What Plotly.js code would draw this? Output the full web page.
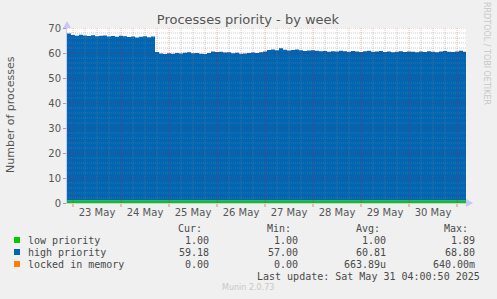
<!DOCTYPE html>
<html>
<head>
<meta charset="utf-8">
<script src="https://cdn.plot.ly/plotly-3.0.1.min.js"></script>
<style>
  html, body { margin: 0; padding: 0; background: #F0F0F0; }
  #chart { width: 497px; height: 299px; }
</style>
</head>
<body>
<div id="chart"></div>
<script>
// ---- data ----
const startTime = "2025-05-22T21:00:00Z";   // first sample
const stepHours = 2;                         // sampling step
const seriesNames = ["low priority", "high priority", "locked in memory"];
const seriesColors = ["#00CC00", "#0066B3", "#FF8000"];

const lowPriority = [
  1.00, 1.00, 1.00, 1.00, 1.00, 1.00, 1.00, 1.00, 1.00, 1.00,
  1.00, 1.00, 1.00, 1.00, 1.00, 1.00, 1.00, 1.00, 1.00, 1.00,
  1.00, 1.00, 1.00, 1.00, 1.00, 1.00, 1.00, 1.00, 1.00, 1.00,
  1.00, 1.00, 1.00, 1.00, 1.00, 1.00, 1.00, 1.00, 1.00, 1.00,
  1.00, 1.00, 1.00, 1.00, 1.00, 1.00, 1.00, 1.00, 1.00, 1.00,
  1.00, 1.00, 1.00, 1.00, 1.00, 1.00, 1.00, 1.00, 1.00, 1.00,
  1.00, 1.00, 1.00, 1.00, 1.00, 1.00, 1.00, 1.00, 1.00, 1.00,
  1.00, 1.00, 1.00, 1.00, 1.00, 1.00, 1.00, 1.00, 1.00, 1.00,
  1.00, 1.00, 1.00, 1.00, 1.00, 1.00, 1.00, 1.00, 1.00, 1.00,
  1.00, 1.00, 1.00, 1.00, 1.00, 1.00, 1.00, 1.00, 1.00, 1.00,
  1.00
];
const highPriority = [
  66.8, 66.2, 65.9, 66.3, 66.0, 65.8, 66.1, 65.7, 65.9, 66.0,
  65.6, 65.8, 65.5, 65.9, 65.7, 65.4, 65.6, 65.2, 65.5, 65.7,
  65.3, 65.6, 59.4, 58.8, 58.6, 58.9, 58.7, 59.0, 58.8, 59.1,
  59.3, 58.9, 59.0, 58.7, 58.6, 59.0, 59.6, 59.4, 59.5, 59.2,
  59.3, 58.9, 59.1, 58.7, 58.8, 59.0, 59.2, 59.0, 59.3, 59.6,
  60.2, 60.4, 60.1, 60.9, 60.3, 60.0, 60.2, 60.4, 60.1, 59.8,
  60.0, 60.1, 59.9, 59.7, 59.8, 59.5, 59.7, 59.6, 59.9, 59.7,
  59.5, 59.8, 59.6, 59.4, 59.7, 59.9, 59.5, 59.6, 59.8, 59.4,
  59.6, 59.3, 59.5, 59.7, 59.4, 59.6, 59.5, 59.3, 59.6, 59.4,
  59.7, 59.5, 59.3, 59.6, 59.8, 59.5, 59.4, 59.6, 59.9, 59.5,
  59.2
];
const lockedInMemory = [
  0, 0, 0, 0, 0, 0, 0, 0, 0, 0,
  0, 0, 0, 0, 0, 0, 0, 0, 0, 0,
  0, 0, 0, 0, 0, 0, 0, 0, 0, 0,
  0, 0, 0, 0, 0, 0, 0, 0, 0, 0,
  0, 0, 0, 0, 0, 0, 0, 0, 0, 0,
  0, 0, 0, 0, 0, 0, 0, 0, 0, 0,
  0, 0, 0, 0, 0, 0, 0, 0, 0, 0,
  0, 0, 0, 0, 0, 0, 0, 0, 0, 0,
  0, 0, 0, 0, 0, 0, 0, 0, 0, 0,
  0, 0, 0, 0, 0, 0, 0, 0, 0, 0,
  0
];

const tickDays = ["2025-05-23 12:00", "2025-05-24 12:00", "2025-05-25 12:00", "2025-05-26 12:00",
                  "2025-05-27 12:00", "2025-05-28 12:00", "2025-05-29 12:00", "2025-05-30 12:00"];
const tickLabels = ["23 May", "24 May", "25 May", "26 May", "27 May", "28 May", "29 May", "30 May"];
const yTicks = [0, 10, 20, 30, 40, 50, 60, 70];

const statHeaders = ["Cur:", "Min:", "Avg:", "Max:"];
const statCur = ["1.00", "59.18", "0.00"];
const statMin = ["1.00", "57.00", "0.00"];
const statAvg = ["1.00", "60.81", "663.89u"];
const statMax = ["1.89", "68.80", "640.00m"];
const lastUpdate = "Last update: Sat May 31 04:00:50 2025";

const xRange = ["2025-05-22 21:00", "2025-05-31 04:30"];
const yRange = [0, 70];

// ---- build ----
const t0 = new Date(startTime).getTime();
const times = lowPriority.map((_, i) =>
  new Date(t0 + i * stepHours * 3600000).toISOString().slice(0, 16).replace("T", " "));

const seriesData = [lowPriority, highPriority, lockedInMemory];
const traces = seriesData.map((vals, k) => ({
  type: "scatter",
  mode: "lines",
  x: times,
  y: vals,
  name: seriesNames[k],
  stackgroup: "one",
  line: { width: 0, shape: "hv", color: seriesColors[k] },
  fillcolor: seriesColors[k],
  hoverinfo: "skip"
}));

// plot geometry in pixels
const W = 497, H = 299;
const L = 67, R = 466, T = 28, B = 203;
const px = x => (x - L) / (R - L);
const py = y => (B - y) / (B - T);

const shapes = [];
// horizontal grid
for (let v = 2; v <= 70; v += 2) {
  const major = v % 10 === 0;
  shapes.push({
    type: "line", xref: "paper", yref: "y", x0: 0, x1: 1, y0: v, y1: v, layer: "above",
    line: { color: major ? "rgba(255,0,0,0.32)" : "rgba(128,128,128,0.42)", width: 1, dash: "1px,1px" }
  });
}
// vertical grid every 6 hours
const gStart = new Date("2025-05-23T00:00:00Z").getTime();
for (let h = -18; h <= 8 * 24 + 4; h += 6) {
  const tt = gStart + h * 3600000;
  const s = new Date(tt).toISOString().slice(0, 16).replace("T", " ");
  if (s < xRange[0] || s > xRange[1]) continue;
  const major = h % 24 === 0;
  shapes.push({
    type: "line", xref: "x", yref: "paper", x0: s, x1: s, y0: 0, y1: 1, layer: "above",
    line: { color: major ? "rgba(255,0,0,0.32)" : "rgba(128,128,128,0.42)", width: 1, dash: "1px,1px" }
  });
  if (major) {
    shapes.push({
      type: "line", xref: "x", yref: "paper", x0: s, x1: s, y0: py(B + 1), y1: py(B + 4), layer: "above",
      line: { color: "rgba(230,120,120,0.9)", width: 1 }
    });
  }
}
// arrows
shapes.push({ type: "path", xref: "paper", yref: "paper", layer: "above",
  path: `M ${px(63)} ${py(28)} L ${px(71)} ${py(28)} L ${px(67)} ${py(21)} Z`,
  fillcolor: "#c8c8f4", line: { width: 0 } });
shapes.push({ type: "path", xref: "paper", yref: "paper", layer: "above",
  path: `M ${px(466)} ${py(199)} L ${px(466)} ${py(207)} L ${px(473)} ${py(203)} Z`,
  fillcolor: "#c8c8f4", line: { width: 0 } });
// legend squares
const rowY = [240, 252, 264];
rowY.forEach((y, k) => {
  shapes.push({ type: "rect", xref: "paper", yref: "paper",
    x0: px(14), x1: px(20), y0: py(y + 3), y1: py(y - 3),
    fillcolor: seriesColors[k], line: { width: 0 } });
});

const mono = { family: "DejaVu Sans Mono", size: 10, color: "#4a4a4a" };
const ann = [];
const txt = (text, x, y, anchor, font, extra) => ann.push(Object.assign({
  text, xref: "paper", yref: "paper", x: px(x), y: py(y), xanchor: anchor, yanchor: "middle",
  showarrow: false, font: font || mono
}, extra || {}));

// y axis title
txt("Number of processes", 10, 115, "center", { family: "DejaVu Sans", size: 11, color: "#555" }, { textangle: -90 });
// right-side credit
txt("RRDTOOL / TOBI OETIKER", 487, 53, "center", { family: "DejaVu Sans", size: 8, color: "#c8c8c8" }, { textangle: 90 });
// footer
txt("Munin 2.0.73", 248, 287, "center", { family: "DejaVu Sans", size: 8, color: "#c8c8c8" });

// legend table
txt(statHeaders[0], 204, 228, "right");
txt(statHeaders[1], 293, 228, "right");
txt(statHeaders[2], 382, 228, "right");
txt(statHeaders[3], 470, 228, "right");
rowY.forEach((y, k) => {
  txt(seriesNames[k], 26, y, "left");
  txt(statCur[k], 211, y, "right");
  txt(statMin[k], 300, y, "right");
  txt(statAvg[k], 388, y, "right");
  txt(statMax[k], 477, y, "right");
});
txt(lastUpdate, 482, 276, "right");

const layout = {
  width: W, height: H,
  paper_bgcolor: "#F0F0F0",
  plot_bgcolor: "#FFFFFF",
  margin: { l: L, r: W - R, t: T, b: H - B, pad: 0 },
  showlegend: false,
  title: {
    text: "Processes priority - by week",
    x: 248 / W, xanchor: "center", xref: "container",
    y: 1 - 19 / H, yanchor: "middle", yref: "container",
    font: { family: "DejaVu Sans", size: 13, color: "#555" }
  },
  xaxis: {
    type: "date", range: xRange, fixedrange: true,
    tickvals: tickDays, ticktext: tickLabels,
    ticks: "", showgrid: false, zeroline: false,
    showline: true, linecolor: "#c8c8f4", linewidth: 1,
    tickfont: { family: "DejaVu Sans", size: 10, color: "#555" }
  },
  yaxis: {
    range: yRange, fixedrange: true,
    tickvals: yTicks, ticktext: yTicks.map(String),
    ticks: "outside", ticklen: 3, tickcolor: "rgba(230,120,120,0.9)",
    showgrid: false, zeroline: false,
    showline: true, linecolor: "#c8c8f4", linewidth: 1,
    tickfont: { family: "DejaVu Sans", size: 10, color: "#555" }
  },
  shapes: shapes,
  annotations: ann
};

Plotly.newPlot("chart", traces, layout, { staticPlot: true, displayModeBar: false });
</script>
</body>
</html>
